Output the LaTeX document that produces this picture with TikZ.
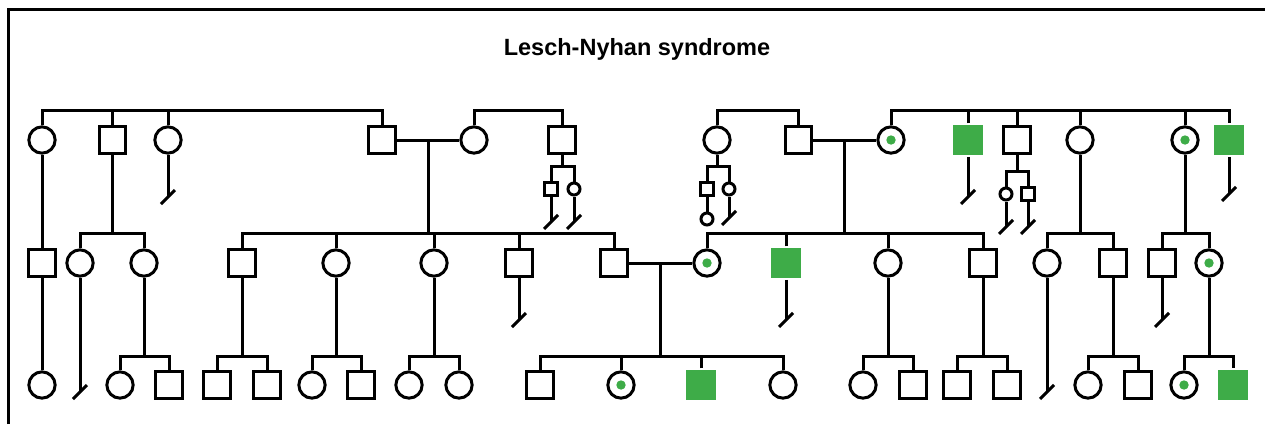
\documentclass[tikz,border=0pt]{standalone}
\usepackage{fontspec}
\newfontfamily\titlefont{Liberation Sans}
\usetikzlibrary{calc}
\definecolor{lngreen}{RGB}{62,172,72}
\newcommand{\noissue}[1]{\draw ($(#1)+(-7,7)$) -- ($(#1)+(7,-7)$);}

\begin{document}
\begin{tikzpicture}[x=1pt,y=-1pt,line width=3pt,
    male/.style={draw,rectangle,minimum size=26.7pt,inner sep=0pt},
    female/.style={draw,circle,minimum size=26.3pt,inner sep=0pt},
    carrier/.style={female,path picture={\fill[lngreen] (path picture bounding box.center) circle (4.7pt);}},
    affected/.style={rectangle,fill=lngreen,minimum size=30.5pt,inner sep=0pt},
    smale/.style={male,minimum size=12.7pt},
    sfemale/.style={female,minimum size=12pt}]
    \useasboundingbox (0,0) rectangle (1265,424);
    \draw (8,424) -- (8,9) -- (1265,9);

    \node[anchor=base] (title) at (637,55) {\titlefont\bfseries\fontsize{23.5}{28}\selectfont Lesch-Nyhan syndrome};

    \coordinate (sA) at (0,110); % sibship rows
    \coordinate (sB) at (0,233);
    \coordinate (sC) at (0,356);

    % generation I
    \node[female] (I1) at (42,140) {};
    \node[male] (I2) at (112.5,140) {};
    \node[female] (I3) at (168,140) {};
    \node[male] (I4) at (382,140) {};
    \node[female] (I5) at (474,140) {};
    \node[male] (I6) at (562,140) {};
    \node[female] (I7) at (717,140) {};
    \node[male] (I8) at (798.5,140) {};
    \node[carrier] (I9) at (891,140) {};
    \node[affected] (I10) at (968,140) {};
    \node[male] (I11) at (1017,140) {};
    \node[female] (I12) at (1080,140) {};
    \node[carrier] (I13) at (1185,140) {};
    \node[affected] (I14) at (1229,140) {};

    \node[smale] (a1) at (551,189) {};
    \node[sfemale] (a2) at (574,189) {};
    \node[smale] (b1) at (707,189) {};
    \node[sfemale] (b2) at (729,189) {};
    \node[sfemale] (b3) at (707,219) {};
    \node[sfemale] (c1) at (1006,194) {};
    \node[smale] (c2) at (1028,194) {};

    % generation II
    \node[male] (II1) at (42,263) {};
    \node[female] (II2) at (80,263) {};
    \node[female] (II3) at (144,263) {};
    \node[male] (II4) at (242,263) {};
    \node[female] (II5) at (336,263) {};
    \node[female] (II6) at (434,263) {};
    \node[male] (II7) at (519,263) {};
    \node[male] (II8) at (614,263) {};
    \node[carrier] (II9) at (707,263) {};
    \node[affected] (II10) at (786,263) {};
    \node[female] (II11) at (888,263) {};
    \node[male] (II12) at (983,263) {};
    \node[female] (II13) at (1047,263) {};
    \node[male] (II14) at (1113,263) {};
    \node[male] (II15) at (1162,263) {};
    \node[carrier] (II16) at (1209,263) {};

    % generation III
    \node[female] (III1) at (42,385) {};
    \node[female] (III2) at (120,385) {};
    \node[male] (III3) at (169,385) {};
    \node[male] (III4) at (217,385) {};
    \node[male] (III5) at (267,385) {};
    \node[female] (III6) at (312,385) {};
    \node[male] (III7) at (361,385) {};
    \node[female] (III8) at (409,385) {};
    \node[female] (III9) at (459,385) {};
    \node[male] (III10) at (540,385) {};
    \node[carrier] (III11) at (621,385) {};
    \node[affected] (III12) at (701,385) {};
    \node[female] (III13) at (783,385) {};
    \node[female] (III14) at (863,385) {};
    \node[male] (III15) at (913,385) {};
    \node[male] (III16) at (957,385) {};
    \node[male] (III17) at (1007,385) {};
    \node[female] (III18) at (1088,385) {};
    \node[male] (III19) at (1138,385) {};
    \node[carrier] (III20) at (1184,385) {};
    \node[affected] (III21) at (1233,385) {};

    % top sibships
    \foreach \a/\b in {I1/I4, I5/I6, I7/I8, I9/I14}
        \draw (\a.north) |- (\b |- sA) -- (\b.north);
    \foreach \k in {I2,I3,I10,I11,I12,I13}
        \draw (\k.north) -- (\k |- sA);

    % couples
    \draw (I4) -- (I5) coordinate[midway] (m45);
    \draw (I8) -- (I9) coordinate[midway] (m89);
    \draw (II8) -- (II9) coordinate[midway] (mII);

    % small sibships
    \coordinate (sI6) at (562,166);
    \coordinate (sI7) at (717,166);
    \coordinate (sI11) at (1017,171);
    \draw (I6) -- (sI6);
    \draw (a1.north) |- (sI6) -| (a2.north);
    \draw (I7) -- (sI7);
    \draw (b1.north) |- (sI7) -| (b2.north);
    \draw (b1) -- (b3);
    \draw (I11) -- (sI11);
    \draw (c1.north) |- (sI11) -| (c2.north);

    % generation II sibships
    \draw (I1) -- (II1);
    \draw (II1) -- (III1);
    \foreach \p in {I2,I12,I13}
        \draw (\p) -- (\p |- sB);
    \draw (m45) -- (m45 |- sB);
    \draw (m89) -- (m89 |- sB);
    \foreach \a/\b in {II2/II3, II4/II8, II9/II12, II13/II14, II15/II16}
        \draw (\a.north) |- (\b |- sB) -- (\b.north);
    \foreach \k in {II5,II6,II7,II10,II11}
        \draw (\k.north) -- (\k |- sB);

    % generation III sibships
    \foreach \p/\a/\b in {II3/III2/III3, II4/III4/III5, II5/III6/III7, II6/III8/III9,
            II11/III14/III15, II12/III16/III17, II14/III18/III19, II16/III20/III21}{
        \draw (\p) -- (\p |- sC);
        \draw (\a.north) |- (\b |- sC) -- (\b.north);
    }
    \draw (mII) -- (mII |- sC);
    \draw (III10.north) |- (III13 |- sC) -- (III13.north);
    \foreach \k in {III11,III12}
        \draw (\k.north) -- (\k |- sC);

    % no offspring
    \foreach \k/\y in {I3/197, I10/197, I14/194, a1/222, a2/222, b2/218, c1/227, c2/227,
            II2/392, II7/320, II10/320, II15/320, II13/392}{
        \coordinate (n\k) at (\k |- 0,\y);
        \draw (\k) -- (n\k);
        \noissue{n\k}
    }
\end{tikzpicture}
\end{document}
